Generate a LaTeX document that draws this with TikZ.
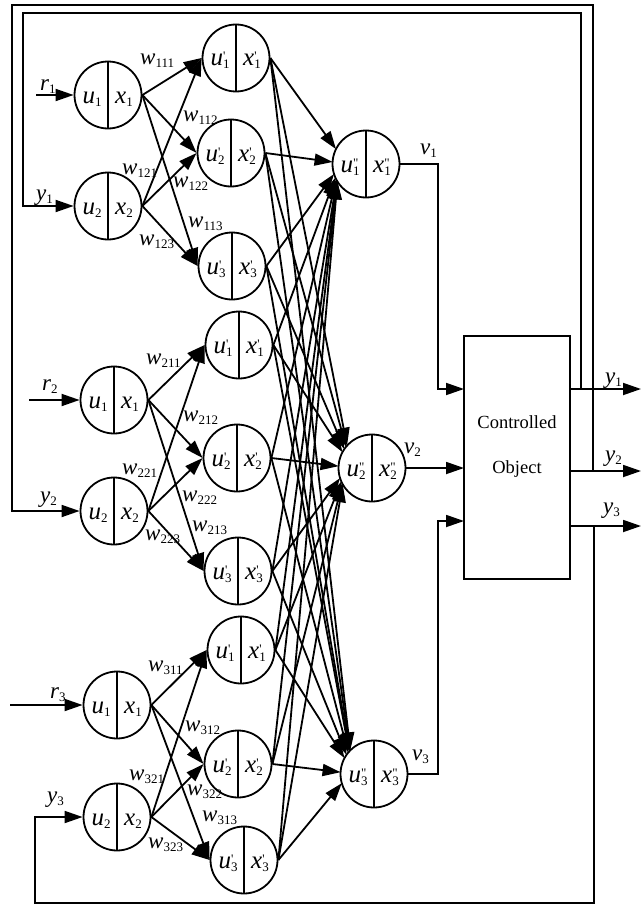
\documentclass[tikz,border=0pt]{standalone}
\usepackage{fontspec}
\setmainfont{Liberation Serif}
\newfontfamily\pf{Liberation Serif}
\usetikzlibrary{arrows.meta,calc}
\newcommand\subsz{\fontsize{13}{13}\selectfont}
\newcommand\lbl[3]{\textit{#1}\makebox[0pt][l]{\raisebox{5pt}{\subsz\pf #3}}\raisebox{-3pt}{\subsz #2}}
\newcommand\neur[5]{%
  \node[neuron] (#1) at (#2,#3) {};
  \draw[ln] (#1.north) -- (#1.south);
  \node[inlab, anchor=base] at ($(#1.center)+(-16,8)$) {#4};
  \node[inlab, anchor=base] at ($(#1.center)+(16,8)$) {#5};
}
\tikzset{
  ln/.style={line width=1.8pt},
  neuron/.style={circle, draw, line width=1.8pt, minimum size=67pt, inner sep=0pt},
  arr/.style={line width=1.8pt, -{Triangle[length=18pt,width=12pt]}},
  lab/.style={inner sep=0pt, font=\fontsize{23}{23}\selectfont},
  inlab/.style={inner sep=0pt, font=\fontsize{25}{25}\selectfont},
  boxst/.style={draw, line width=1.8pt, minimum width=106pt, minimum height=243pt, inner sep=0pt},
  bigtxt/.style={inner sep=0pt, font=\fontsize{18.5}{18.5}\selectfont, anchor=base},
}
\begin{document}
\begin{tikzpicture}[x=1pt,y=-1pt]
\useasboundingbox (0,0) rectangle (642,907);
% input layer
\neur{a11}{108}{95}{\lbl{u}{1}{}}{\lbl{x}{1}{}}
\neur{a12}{108}{206}{\lbl{u}{2}{}}{\lbl{x}{2}{}}
\neur{a21}{114}{400}{\lbl{u}{1}{}}{\lbl{x}{1}{}}
\neur{a22}{114}{511}{\lbl{u}{2}{}}{\lbl{x}{2}{}}
\neur{a31}{117}{705}{\lbl{u}{1}{}}{\lbl{x}{1}{}}
\neur{a32}{117}{817}{\lbl{u}{2}{}}{\lbl{x}{2}{}}
% hidden layer
\neur{h11}{236}{58}{\lbl{u}{1}{'}}{\lbl{x}{1}{'}}
\neur{h12}{231}{153}{\lbl{u}{2}{'}}{\lbl{x}{2}{'}}
\neur{h13}{232}{266}{\lbl{u}{3}{'}}{\lbl{x}{3}{'}}
\neur{h21}{239}{345}{\lbl{u}{1}{'}}{\lbl{x}{1}{'}}
\neur{h22}{237}{458}{\lbl{u}{2}{'}}{\lbl{x}{2}{'}}
\neur{h23}{238}{571}{\lbl{u}{3}{'}}{\lbl{x}{3}{'}}
\neur{h31}{241}{650}{\lbl{u}{1}{'}}{\lbl{x}{1}{'}}
\neur{h32}{238}{764}{\lbl{u}{2}{'}}{\lbl{x}{2}{'}}
\neur{h33}{244}{860}{\lbl{u}{3}{'}}{\lbl{x}{3}{'}}
% output layer
\neur{o1}{366}{164}{\lbl{u}{1}{"}}{\lbl{x}{1}{"}}
\neur{o2}{372}{468}{\lbl{u}{2}{"}}{\lbl{x}{2}{"}}
\neur{o3}{374}{774}{\lbl{u}{3}{"}}{\lbl{x}{3}{"}}
% input -> hidden
\foreach \g in {1,2,3}{
  \foreach \i in {1,2}{
    \foreach \j in {1,2,3}{
      \draw[arr] (a\g\i.east) -- (h\g\j.west);
    }
  }
}
% hidden -> output
\foreach \h in {h11,h12,h13,h21,h22,h23,h31,h32,h33}{
  \foreach \o in {o1,o2,o3}{
    \draw[arr] let \p1=(\h.east), \p2=(\o.center),
      \n1={atan2(\y1-\y2,\x1-\x2)},
      \n2={(\n1<0) ? (\n1+360) : (\n1)},
      \n3={(\n2<180) ? (180+0.55*(\n2-180)) : (180+0.38*(\n2-180))}
      in (\p1) -- ($(\o.center)+(\n3:33.5pt)$);
  }
}
% weight labels
\node[lab, anchor=base west] (w111) at (140,64)  {\lbl{w}{111}{}};
\node[lab, anchor=base west] (w112) at (183,121) {\lbl{w}{112}{}};
\node[lab, anchor=base west] (w121) at (122,174) {\lbl{w}{121}{}};
\node[lab, anchor=base west] (w122) at (173,187) {\lbl{w}{122}{}};
\node[lab, anchor=base west] (w113) at (188,227) {\lbl{w}{113}{}};
\node[lab, anchor=base west] (w123) at (139,245) {\lbl{w}{123}{}};
\node[lab, anchor=base west] (w211) at (146,364) {\lbl{w}{211}{}};
\node[lab, anchor=base west] (w212) at (183,421) {\lbl{w}{212}{}};
\node[lab, anchor=base west] (w221) at (122,474) {\lbl{w}{221}{}};
\node[lab, anchor=base west] (w222) at (182,501) {\lbl{w}{222}{}};
\node[lab, anchor=base west] (w213) at (192,531) {\lbl{w}{213}{}};
\node[lab, anchor=base west] (w223) at (145,540) {\lbl{w}{223}{}};
\node[lab, anchor=base west] (w311) at (148,671) {\lbl{w}{311}{}};
\node[lab, anchor=base west] (w312) at (185,731) {\lbl{w}{312}{}};
\node[lab, anchor=base west] (w321) at (129,780) {\lbl{w}{321}{}};
\node[lab, anchor=base west] (w322) at (187,795) {\lbl{w}{322}{}};
\node[lab, anchor=base west] (w313) at (202,821) {\lbl{w}{313}{}};
\node[lab, anchor=base west] (w323) at (148,848) {\lbl{w}{323}{}};
% controlled object
\node[boxst] (box) at (517,457.5) {};
\node[bigtxt] (t1) at (517,428) {Controlled};
\node[bigtxt] (t2) at (517,473) {Object};
% reference inputs
\coordinate (r1s) at (36,95);
\coordinate (r2s) at (29,400);
\coordinate (r3s) at (10,705);
\draw[arr] (r1s) -- (a11.west);
\draw[arr] (r2s) -- (a21.west);
\draw[arr] (r3s) -- (a31.west);
\node[lab, anchor=base west] (lr1) at (40,90)  {\lbl{r}{1}{}};
\node[lab, anchor=base west] (lr2) at (42,390) {\lbl{r}{2}{}};
\node[lab, anchor=base west] (lr3) at (50,698) {\lbl{r}{3}{}};
% v lines to box
\coordinate (k1) at (438,389);
\coordinate (bi1) at (464,389);
\coordinate (bi2) at (464,468);
\coordinate (k3) at (438,521);
\coordinate (bi3) at (464,521);
\draw[arr] (o1.east) -| (k1) -- (bi1);
\draw[arr] (o2.east) -- (bi2);
\draw[arr] (o3.east) -| (k3) -- (bi3);
\node[lab, anchor=base west] (lv1) at (420,154) {\lbl{v}{1}{}};
\node[lab, anchor=base west] (lv2) at (404,453) {\lbl{v}{2}{}};
\node[lab, anchor=base west] (lv3) at (412,760) {\lbl{v}{3}{}};
% outputs
\coordinate (bo1) at (570,389);
\coordinate (bo2) at (570,471);
\coordinate (bo3) at (570,526);
\coordinate (e1) at (641,389);
\coordinate (e2) at (641,471);
\coordinate (e3) at (641,526);
\draw[arr] (bo1) -- (e1);
\draw[arr] (bo2) -- (e2);
\draw[arr] (bo3) -- (e3);
\node[lab, anchor=base west] (ly1o) at (605,383) {\lbl{y}{1}{}};
\node[lab, anchor=base west] (ly2o) at (605,461) {\lbl{y}{2}{}};
\node[lab, anchor=base west] (ly3o) at (603,513) {\lbl{y}{3}{}};
% feedback
\coordinate (f1) at (581,389);
\coordinate (f1t) at (23,13);
\coordinate (f2) at (593,471);
\coordinate (f2t) at (12,5);
\coordinate (f3) at (594,526);
\coordinate (f3b) at (35,903);
\draw[arr] (f1) |- (f1t) |- (a12.west);
\draw[arr] (f2) |- (f2t) |- (a22.west);
\draw[arr] (f3) |- (f3b) |- (a32.west);
\node[lab, anchor=base west] (ly1) at (36,200) {\lbl{y}{1}{}};
\node[lab, anchor=base west] (ly2) at (40,502) {\lbl{y}{2}{}};
\node[lab, anchor=base west] (ly3) at (47,802) {\lbl{y}{3}{}};
\end{tikzpicture}
\end{document}
